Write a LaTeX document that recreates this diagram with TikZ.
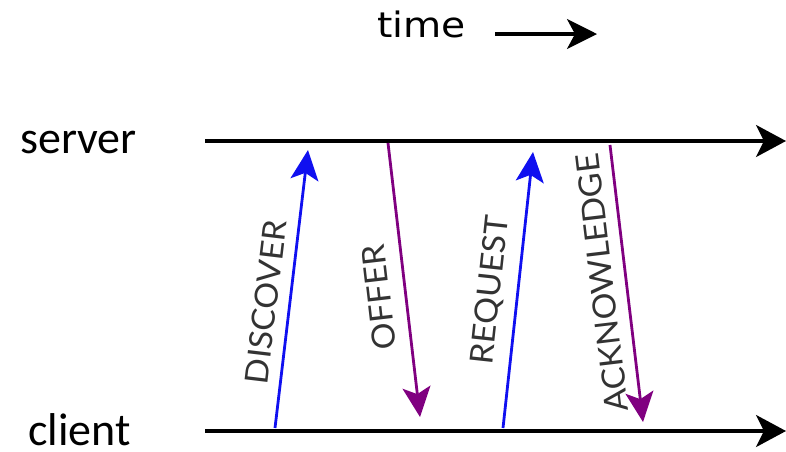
\documentclass[tikz,border=0pt]{standalone}
\usepackage{fontspec}
\usetikzlibrary{arrows.meta}
\newfontfamily\labfont[FakeStretch=1.05]{Lato}
\newfontfamily\sidefont{Carlito}
\newfontfamily\timefont[FakeStretch=1.12]{DejaVu Sans}
\definecolor{msgblue}{HTML}{1010F0}
\definecolor{msgpurple}{HTML}{800080}
\tikzset{
  timeline/.style={line width=3.5pt, -{Stealth[length=30pt,width=32pt,inset=8pt]}},
  upmsg/.style={line width=2.8pt, msgblue, -{Stealth[length=30pt,width=28pt,inset=7pt]}},
  downmsg/.style={line width=2.8pt, msgpurple, -{Stealth[length=30pt,width=28pt,inset=7pt]}},
  msglabel/.style={font=\labfont\fontsize{32}{35}\selectfont, text=black!80, inner sep=0pt},
  sidelabel/.style={font=\sidefont\fontsize{46}{50}\selectfont, inner sep=0pt, anchor=base west},
}
\begin{document}
\begin{tikzpicture}[x=1pt,y=-1pt]
\useasboundingbox (0,0) rectangle (786,451);
% time
\node[font=\timefont\fontsize{35}{38}\selectfont, inner sep=0pt, anchor=base west] (time) at (377,37) {time};
\coordinate (t0) at (495,34);
\coordinate (t1) at (597,34);
\draw[line width=3.3pt, -{Stealth[length=30pt,width=30pt,inset=8pt]}] (t0) -- (t1);
% side labels
\node[sidelabel] (srv) at (20,153) {server};
\node[sidelabel] (cli) at (28,445) {client};
% timelines
\coordinate (s0) at (205,141);
\coordinate (s1) at (786,141);
\coordinate (c0) at (205,431);
\coordinate (c1) at (786,431);
\draw[timeline] (s0) -- (s1);
\draw[timeline] (c0) -- (c1);
% messages
\coordinate (d0) at (275,428); \coordinate (d1) at (308,150);
\coordinate (o0) at (388,143); \coordinate (o1) at (420,417);
\coordinate (r0) at (503,428); \coordinate (r1) at (533,152);
\coordinate (a0) at (610,145); \coordinate (a1) at (643,422);
\draw[upmsg] (d0) -- (d1);
\draw[downmsg] (o0) -- (o1);
\draw[upmsg] (r0) -- (r1);
\draw[downmsg] (a0) -- (a1);
\node[msglabel, rotate=83.2] (ld) at (266,302) {DISCOVER};
\node[msglabel, rotate=96.6] (lo) at (379,297) {OFFER};
\node[msglabel, rotate=83.8] (lr) at (491,290) {REQUEST};
\node[msglabel, rotate=96.8] (la) at (602,283) {ACKNOWLEDGE};
\end{tikzpicture}
\end{document}
